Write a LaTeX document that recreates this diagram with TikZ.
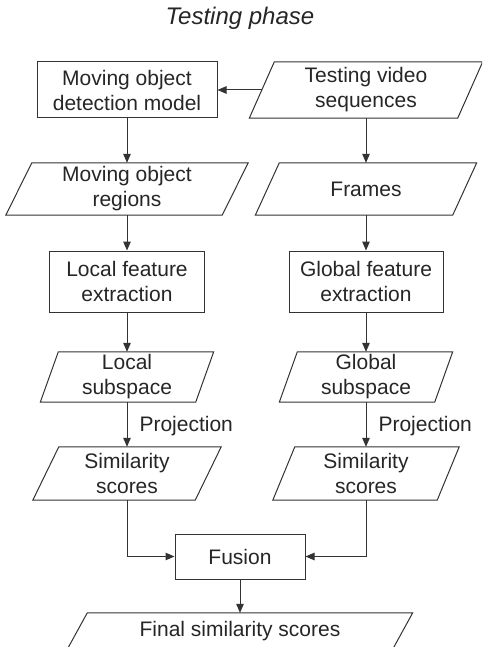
\documentclass[tikz,border=0pt]{standalone}
\usepackage{fontspec}
\setmainfont{Liberation Sans}
\usetikzlibrary{arrows.meta}
\begin{document}
\begin{tikzpicture}[x=1pt,y=-1pt,
  ln/.style={draw=black!80,line width=1pt},
  arr/.style={ln,-{Triangle[length=9pt,width=7.5pt]}},
  txt/.style={font=\fontsize{21}{25}\selectfont,text=black!85,align=center,inner sep=0pt},
  boxn/.style={txt,ln,minimum width=#1,minimum height=56pt},
  parn/.style={txt,minimum width=#1,minimum height=53pt}]
\useasboundingbox (0,0) rectangle (482,647);
\clip (0,0) rectangle (482,647);
\fill[white] (0,0) rectangle (482,647);

\node[font=\fontsize{24}{28}\selectfont\itshape,text=black!85] (title) at (240,18) {Testing phase};

\node[boxn=180pt] (det) at (127,90) {Moving object\\detection model};
\node[parn=208pt,minimum height=56pt] (tvs) at (366,90) {Testing video\\sequences};
\node[parn=216pt,minimum height=52pt] (mor) at (127,189) {Moving object\\regions};
\node[parn=197pt,minimum height=52pt] (frm) at (366,189) {Frames};
\node[boxn=155pt,minimum height=61pt] (lfe) at (127,281.5) {Local feature\\extraction};
\node[boxn=154pt,minimum height=61pt] (gfe) at (366,281.5) {Global feature\\extraction};
\node[parn=155pt,minimum height=50pt] (lsub) at (127,377) {Local\\subspace};
\node[parn=155pt,minimum height=50pt] (gsub) at (366,377) {Global\\subspace};
\node[parn=162pt] (lsim) at (127,473.5) {Similarity\\scores};
\node[parn=164pt] (rsim) at (366,473.5) {Similarity\\scores};
\node[boxn=130pt,minimum height=45pt] (fus) at (240,556.5) {Fusion};
\node[parn=325pt,minimum height=36pt] (fin) at (240,631) {Final similarity scores};

\foreach \n/\h in {tvs/12.5pt,mor/13pt,frm/12pt,lsub/9pt,gsub/9pt,lsim/13pt,rsim/11pt,fin/10pt}
  \draw[ln] ([xshift=\h]\n.north west) -- ([xshift=\h]\n.north east)
    -- ([xshift=-\h]\n.south east) -- ([xshift=-\h]\n.south west) -- cycle;

\draw[arr] (tvs.west) -- (det.east);
\draw[arr] (det) -- (mor);
\draw[arr] (tvs) -- (frm);
\draw[arr] (mor) -- (lfe);
\draw[arr] (frm) -- (gfe);
\draw[arr] (lfe) -- (lsub);
\draw[arr] (gfe) -- (gsub);
\draw[arr] (lsub) -- node[txt,anchor=west,xshift=12pt,yshift=-2pt] (pl) {Projection} (lsim);
\draw[arr] (gsub) -- node[txt,anchor=west,xshift=12pt,yshift=-2pt] (pr) {Projection} (rsim);
\draw[arr] (lsim.south) |- (fus.west);
\draw[arr] (rsim.south) |- (fus.east);
\draw[arr] (fus) -- (fin);
\end{tikzpicture}
\end{document}
